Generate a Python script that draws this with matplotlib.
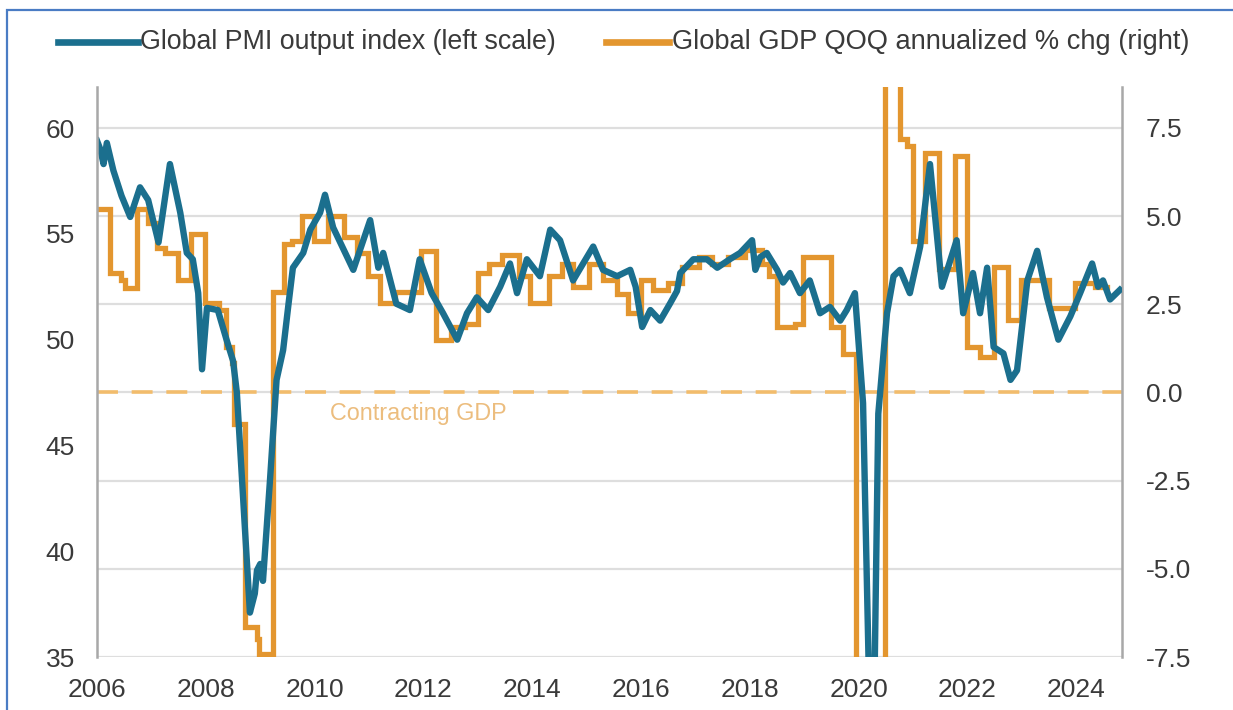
import numpy as np
import matplotlib
matplotlib.use("Agg")
import matplotlib.pyplot as plt
from matplotlib.lines import Line2D
from matplotlib.patches import Rectangle

plt.rcParams['font.family'] = ['Liberation Sans', 'DejaVu Sans']
plt.rcParams['axes.unicode_minus'] = False

# global PMI output index, left scale (decimal year, index level)
pmi_t = [2006.00, 2006.06, 2006.12, 2006.18, 2006.30, 2006.45, 2006.61, 2006.79, 2006.94,
         2007.13, 2007.34, 2007.53, 2007.65, 2007.76, 2007.86, 2007.93, 2008.02, 2008.22,
         2008.38, 2008.50, 2008.57, 2008.63, 2008.81, 2008.90, 2008.94, 2009.00, 2009.05,
         2009.18, 2009.30, 2009.42, 2009.52, 2009.60, 2009.79, 2009.92, 2010.10, 2010.19,
         2010.34, 2010.71, 2011.02, 2011.17, 2011.26, 2011.50, 2011.75, 2011.93, 2012.15,
         2012.36, 2012.62, 2012.80, 2012.98, 2013.19, 2013.41, 2013.59, 2013.72, 2013.90,
         2014.14, 2014.33, 2014.51, 2014.75, 2015.12, 2015.30, 2015.56, 2015.80, 2015.90,
         2016.02, 2016.17, 2016.35, 2016.53, 2016.66, 2016.72, 2016.96, 2017.21, 2017.40,
         2017.63, 2017.82, 2018.04, 2018.10, 2018.19, 2018.31, 2018.50, 2018.61, 2018.74,
         2018.92, 2019.10, 2019.29, 2019.47, 2019.66, 2019.78, 2019.93, 2020.08, 2020.25,
         2020.36, 2020.52, 2020.64, 2020.76, 2020.94, 2021.13, 2021.31, 2021.53, 2021.80,
         2021.92, 2022.10, 2022.23, 2022.36, 2022.48, 2022.66, 2022.79, 2022.91, 2023.10,
         2023.28, 2023.46, 2023.67, 2023.89, 2024.07, 2024.29, 2024.40, 2024.49, 2024.62,
         2024.80]
pmi_v = [59.4, 59.0, 58.3, 59.3, 58.0, 56.8, 55.8, 57.2, 56.6,
         54.6, 58.3, 56.0, 54.1, 53.8, 52.2, 48.6, 51.5, 51.4,
         50.0, 49.0, 47.5, 44.9, 37.1, 38.0, 39.1, 39.4, 38.6,
         43.4, 48.1, 49.5, 51.7, 53.4, 54.1, 55.2, 56.0, 56.85,
         55.3, 53.3, 55.65, 53.4, 54.1, 51.7, 51.4, 53.8, 52.2,
         51.25, 50.0, 51.25, 52.0, 51.4, 52.5, 53.6, 52.2, 53.8,
         53.0, 55.2, 54.7, 52.8, 54.4, 53.3, 53.0, 53.3, 52.5,
         50.6, 51.4, 50.9, 51.7, 52.3, 53.15, 53.8, 53.8, 53.4,
         53.8, 54.1, 54.7, 53.3, 53.9, 54.1, 53.3, 52.7, 53.15,
         52.2, 52.8, 51.25, 51.55, 50.9, 51.4, 52.2, 47.0, 26.5,
         46.5, 51.25, 53.0, 53.3, 52.2, 54.4, 58.3, 52.5, 54.7,
         51.25, 53.15, 51.25, 53.4, 49.65, 49.35, 48.1, 48.55, 52.8,
         54.2, 52.0, 50.0, 51.1, 52.2, 53.6, 52.5, 52.8, 51.9,
         52.35]

# global GDP qoq annualized % chg, right scale (period start, level)
gdp_t = [2006.00, 2006.24, 2006.44, 2006.51, 2006.74, 2006.94, 2007.10, 2007.25, 2007.49,
         2007.73, 2007.99, 2008.24, 2008.37, 2008.48, 2008.52, 2008.72, 2008.94, 2008.98,
         2009.24, 2009.44, 2009.58, 2009.77, 2009.99, 2010.25, 2010.54, 2010.78, 2010.98,
         2011.20, 2011.48, 2011.96, 2012.23, 2012.51, 2012.76, 2013.00, 2013.21, 2013.44,
         2013.76, 2013.96, 2014.31, 2014.55, 2014.75, 2015.04, 2015.30, 2015.56, 2015.76,
         2016.00, 2016.22, 2016.49, 2016.75, 2017.07, 2017.31, 2017.60, 2017.91, 2018.22,
         2018.35, 2018.49, 2018.83, 2018.98, 2019.49, 2019.71, 2019.95, 2020.20, 2020.49,
         2020.76, 2020.88, 2021.00, 2021.22, 2021.48, 2021.77, 2021.99, 2022.23, 2022.49,
         2022.75, 2022.99, 2023.50, 2023.98, 2024.35, 2024.57]
gdp_v = [5.2, 3.4, 3.2, 2.95, 5.2, 4.8, 4.1, 3.95, 3.2,
         4.5, 2.55, 2.35, 1.3, 0.85, -0.9, -6.65, -7.0, -7.4,
         2.85, 4.2, 4.3, 5.0, 4.3, 5.0, 4.4, 3.95, 3.3,
         2.55, 2.85, 4.0, 1.5, 1.85, 1.95, 3.4, 3.65, 3.9,
         3.3, 2.55, 3.3, 3.65, 3.0, 3.65, 3.2, 2.8, 2.25,
         3.2, 2.9, 3.1, 3.55, 3.85, 3.65, 3.85, 4.05, 3.65,
         3.3, 1.85, 1.95, 3.85, 1.85, 1.1, -9.5, -28.0, 30.0,
         7.2, 7.0, 4.3, 6.8, 3.5, 6.7, 1.3, 1.0, 3.55,
         2.05, 3.2, 2.4, 3.1, 3.0, 3.0]

left_ticks = [35, 40, 45, 50, 55, 60]
right_ticks = [-7.5, -5.0, -2.5, 0.0, 2.5, 5.0, 7.5]
year_ticks = [2006, 2008, 2010, 2012, 2014, 2016, 2018, 2020, 2022, 2024]

teal = '#1b6f8e'
orange = '#e3962f'
grey = '#3a3a3a'

fig = plt.figure(figsize=(12.33, 7.10), dpi=100)
ax = fig.add_axes([0.0787, 0.0746, 0.8313, 0.8028])
ax2 = ax.twinx()

# GDP and gridlines sit underneath, PMI on top
ax.set_zorder(ax2.get_zorder() + 1)
ax.patch.set_visible(False)

ax2.step(gdp_t, gdp_v, where='post', color=orange, lw=3.8, solid_joinstyle='miter')
ax2.axhline(0, color='#f2bc6c', lw=2.6, dashes=(5.8, 3.8), zorder=1)
ax2.text(2010.28, -0.6, 'Contracting GDP', color='#ecbd7e', fontsize=16.8,
         ha='left', va='center')
ax.plot(pmi_t, pmi_v, color=teal, lw=4.6, solid_joinstyle='round')

ax.set_xlim(2006, 2024.84)
ax.set_ylim(35, 61.94)
ax2.set_ylim(-7.5, 8.66)

ax.set_yticks(left_ticks)
ax2.set_yticks(right_ticks)
ax2.set_yticklabels([f'{v:.1f}' for v in right_ticks])
ax.set_xticks(year_ticks)

ax2.yaxis.grid(True, color='#dedede', lw=1.6)
ax2.set_axisbelow(True)

for s in ['top', 'bottom', 'right']:
    ax.spines[s].set_visible(False)
for s in ['top', 'bottom', 'left']:
    ax2.spines[s].set_visible(False)
ax.spines['left'].set_color('#a8a8a8')
ax.spines['left'].set_linewidth(1.8)
ax2.spines['right'].set_color('#a8a8a8')
ax2.spines['right'].set_linewidth(1.8)

ax.tick_params(axis='y', length=0, pad=16, labelsize=19, labelcolor=grey)
ax.tick_params(axis='x', length=0, pad=15, labelsize=19, labelcolor=grey)
ax2.tick_params(axis='y', length=0, pad=17, labelsize=19, labelcolor=grey)

# legend row above the plot
W, H = 1233, 710
fig.add_artist(Line2D([58 / W, 138 / W], [1 - 42 / H] * 2, color=teal, lw=4.8,
                      transform=fig.transFigure))
fig.text(140 / W, 1 - 42 / H, 'Global PMI output index (left scale)', fontsize=19.3,
         color=grey, ha='left', va='center')
fig.add_artist(Line2D([606 / W, 669 / W], [1 - 42 / H] * 2, color=orange, lw=4.8,
                      transform=fig.transFigure))
fig.text(672 / W, 1 - 42 / H, 'Global GDP QOQ annualized % chg (right)', fontsize=19.6,
         color=grey, ha='left', va='center')

# blue frame around the panel
fig.add_artist(Rectangle((7 / W, -0.2), 1.2, 1.2 - 10 / H, transform=fig.transFigure,
                         fill=False, edgecolor='#4a7cc4', lw=1.6, clip_on=False))

fig.savefig('out.png', dpi=100)
